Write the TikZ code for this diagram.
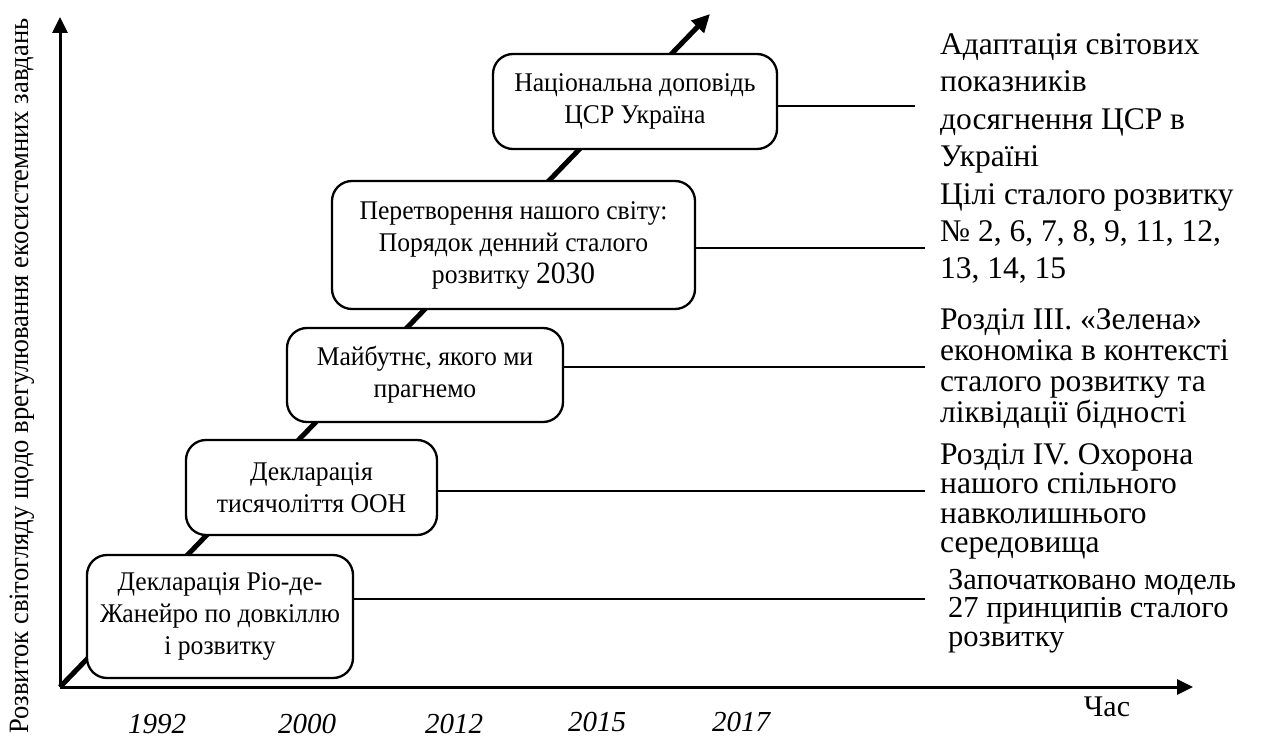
\documentclass[tikz,border=0pt]{standalone}
\usepackage{fontspec}
\setmainfont{Liberation Serif}
\newfontfamily\boxfont[FakeStretch=0.95]{Liberation Serif}
\usetikzlibrary{arrows.meta}
\begin{document}
\begin{tikzpicture}[x=1pt,y=-1pt,
  stagebox/.style={draw, line width=2.3pt, rounded corners=20pt, fill=white,
    align=center, inner sep=0pt, font=\boxfont\fontsize{27}{32}\selectfont},
  notetext/.style={anchor=north west, align=left, inner sep=0pt},
  axisline/.style={line width=3pt, -{Triangle[length=16pt,width=15pt]}},
  link/.style={line width=2pt},
  yearlabel/.style={font=\fontsize{29}{29}\selectfont\itshape, inner sep=0pt}
]
\useasboundingbox (0,0) rectangle (1272,738);

% axes and the rising trend line
\coordinate (o) at (60,687);
\coordinate (ytop) at (60,17);
\coordinate (xend) at (1193,687);
\coordinate (dtip) at (710,14);
\draw[line width=5pt, -{Triangle[length=18pt,width=17pt]}] (o) -- (dtip);
\draw[axisline] (o) -- (ytop);
\draw[axisline] (o) -- (xend);

% milestone boxes
\node[stagebox, minimum width=266pt, minimum height=123pt] (b1) at (220,616.5)
  {Декларація Ріо-де-\\Жанейро по довкіллю\\і розвитку};
\node[stagebox, minimum width=251pt, minimum height=95pt] (b2) at (311.5,487.5)
  {Декларація\\тисячоліття ООН};
\node[stagebox, minimum width=276pt, minimum height=94pt] (b3) at (425,375)
  {Майбутнє, якого ми\\прагнемо};
\node[stagebox, minimum width=363pt, minimum height=128pt] (b4) at (513.5,245)
  {Перетворення нашого світу:\\Порядок денний сталого\\розвитку {\fontsize{31}{32}\selectfont 2030}};
\node[stagebox, minimum width=284pt, minimum height=95pt] (b5) at (635,101.5)
  {Національна доповідь\\ЦСР Україна};

% descriptions on the right
\node[notetext, font=\fontsize{31.5}{37.5}\selectfont] (n5) at (940,33)
  {Адаптація світових\\показників\\досягнення ЦСР в\\Україні};
\node[notetext, font=\fontsize{31.5}{37}\selectfont] (n4) at (940,183)
  {Цілі сталого розвитку\\№ 2, 6, 7, 8, 9, 11, 12,\\13, 14, 15};
\node[notetext, font=\fontsize{31.5}{31}\selectfont] (n3) at (940,308)
  {Розділ ІІІ. «Зелена»\\економіка в контексті\\сталого розвитку та\\ліквідації бідності};
\node[notetext, font=\fontsize{31.5}{29.5}\selectfont] (n2) at (940,443)
  {Розділ IV. Охорона\\нашого спільного\\навколишнього\\середовища};
\node[notetext, font=\fontsize{30.5}{28.5}\selectfont] (n1) at (948,569)
  {Започатковано модель\\27 принципів сталого\\розвитку};

% connectors from boxes to descriptions
\coordinate (e5) at (915,106);
\coordinate (e4) at (925,248);
\coordinate (e3) at (925,367);
\coordinate (e2) at (925,491);
\coordinate (e1) at (925,599);
\draw[link] (b5.east |- e5) -- (e5);
\draw[link] (b4.east |- e4) -- (e4);
\draw[link] (b3.east |- e3) -- (e3);
\draw[link] (b2.east |- e2) -- (e2);
\draw[link] (b1.east |- e1) -- (e1);

% axis labels
\node[rotate=90, font=\boxfont\fontsize{28}{28}\selectfont, inner sep=0pt] (ylab) at (22,376)
  {Розвиток світогляду щодо врегулювання екосистемних завдань};
\node[font=\fontsize{30}{30}\selectfont, inner sep=0pt] (tlab) at (1107,707) {Час};

% years
\node[yearlabel] (y1) at (157,724) {1992};
\node[yearlabel] (y2) at (307,724) {2000};
\node[yearlabel] (y3) at (454,724) {2012};
\node[yearlabel] (y4) at (597,722) {2015};
\node[yearlabel] (y5) at (741,722) {2017};
\end{tikzpicture}
\end{document}
